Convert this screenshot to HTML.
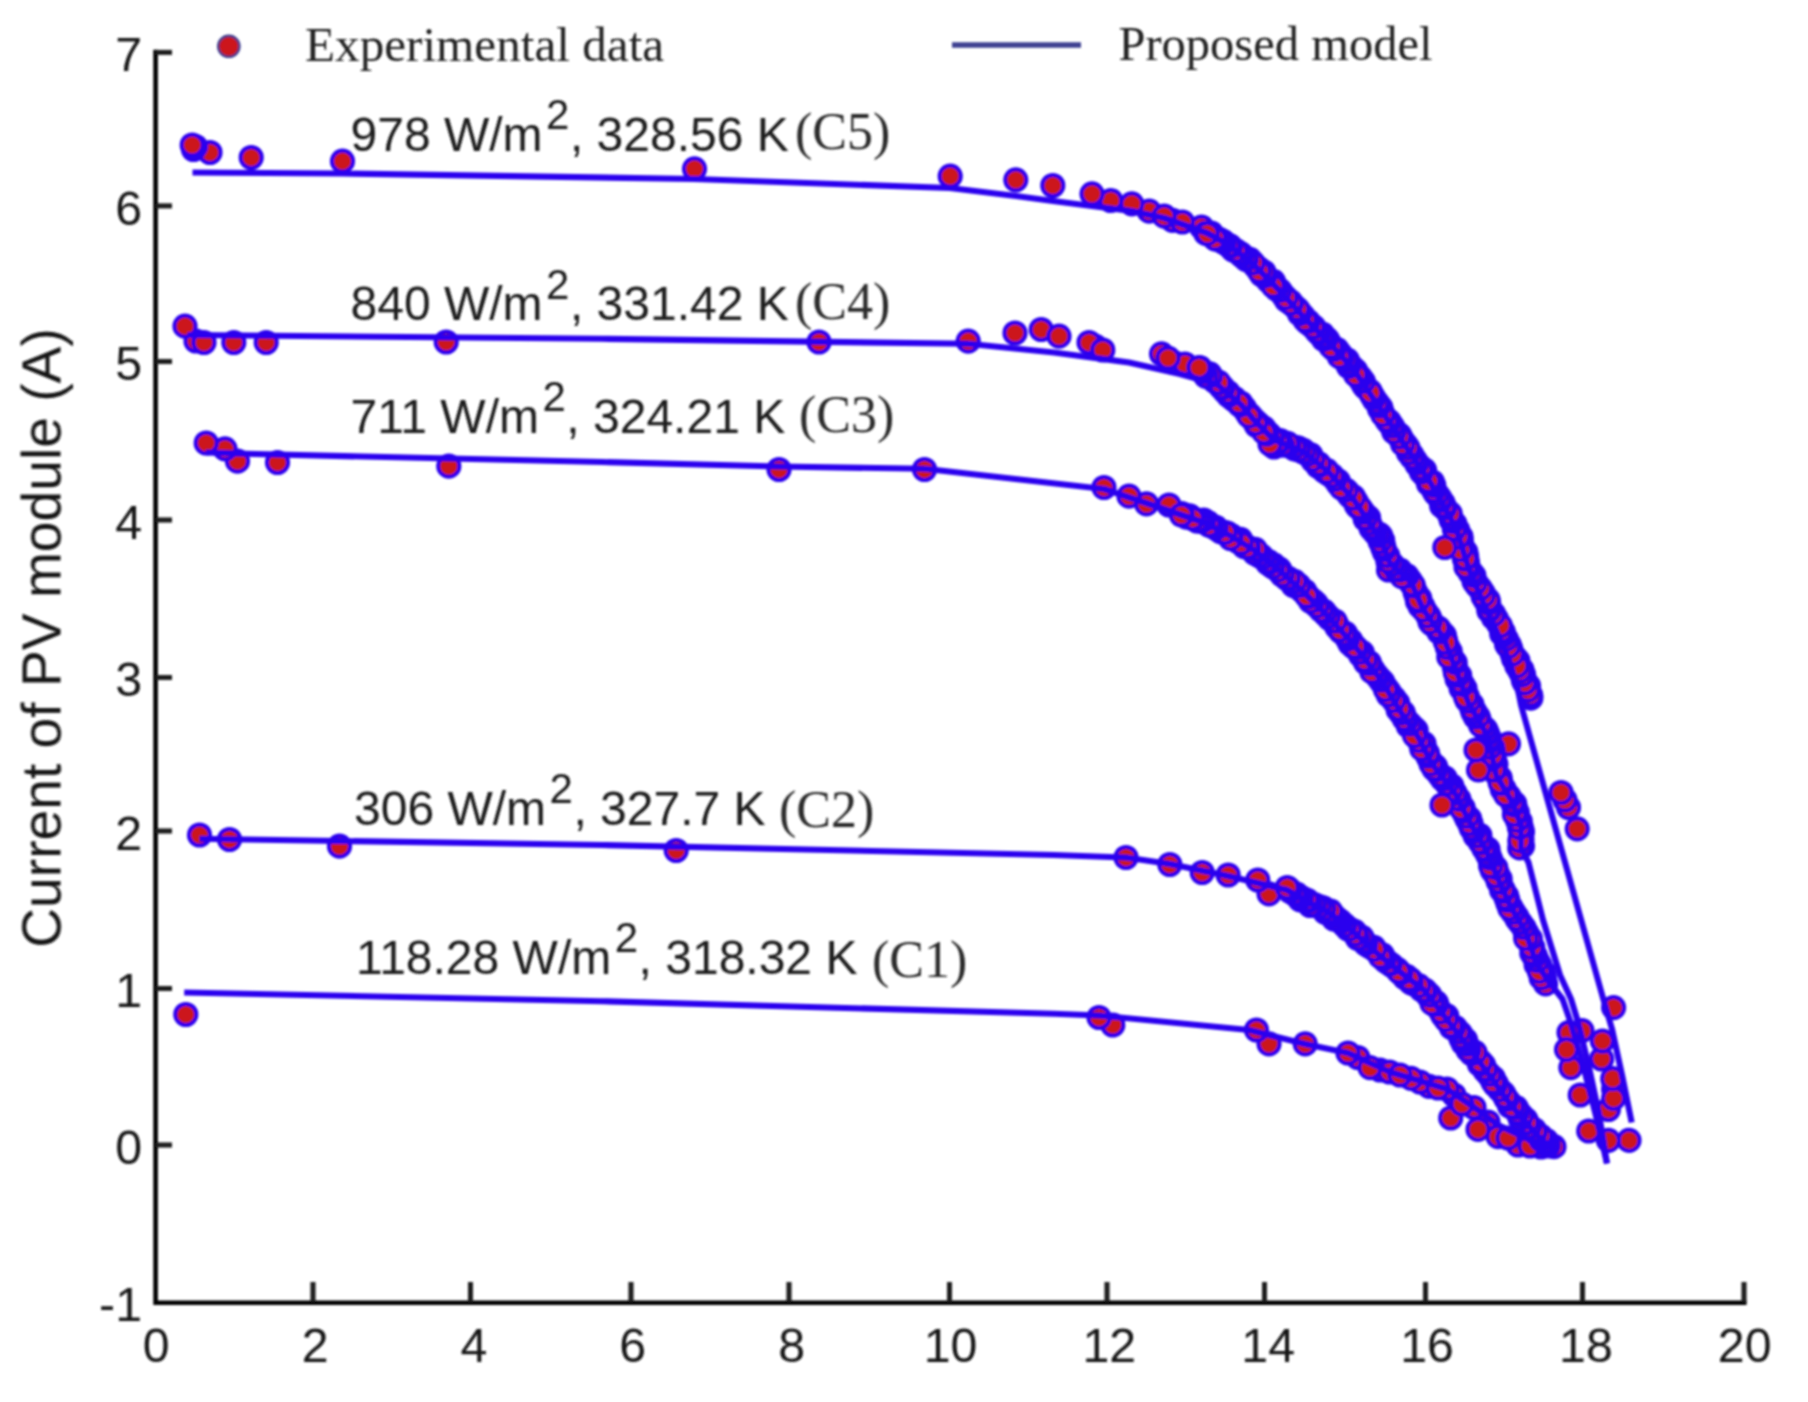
<!DOCTYPE html>
<html><head><meta charset="utf-8"><title>PV module I-V curves</title>
<style>html,body{margin:0;padding:0;background:#fff;overflow:hidden}svg{display:block}</style></head>
<body>
<svg width="1808" height="1402" viewBox="0 0 1808 1402">
<defs><filter id="soft" x="0" y="0" width="1808" height="1402" filterUnits="userSpaceOnUse"><feGaussianBlur stdDeviation="0.8"/></filter></defs>
<rect width="1808" height="1402" fill="#fff"/>
<g filter="url(#soft)">
<g stroke="#000" stroke-width="4.6" fill="none" stroke-linecap="butt">
<path d="M155.6 49.8 V1302.7 H1746.6"/>
</g>
<g stroke="#1a1a1a" stroke-width="5" fill="none">
<path d="M313 1302 V1282"/>
<path d="M470.5 1302 V1282"/>
<path d="M631 1302 V1282"/>
<path d="M789 1302 V1282"/>
<path d="M949.5 1302 V1282"/>
<path d="M1107 1302 V1282"/>
<path d="M1264.5 1302 V1282"/>
<path d="M1425.5 1302 V1282"/>
<path d="M1582.5 1302 V1282"/>
<path d="M1744 1302 V1282"/>
<path d="M156 52.4 H172"/>
<path d="M156 205.9 H172"/>
<path d="M156 361.5 H172"/>
<path d="M156 520 H172"/>
<path d="M156 677.5 H172"/>
<path d="M156 831 H172"/>
<path d="M156 988.5 H172"/>
<path d="M156 1145 H172"/>
</g>
<g font-family='"Liberation Sans", Arial, sans-serif' font-size="48.3" fill="#151515">
<text x="156.3" y="1362.4" text-anchor="middle">0</text>
<text x="315.1" y="1362.4" text-anchor="middle">2</text>
<text x="474.0" y="1362.4" text-anchor="middle">4</text>
<text x="632.8" y="1362.4" text-anchor="middle">6</text>
<text x="791.7" y="1362.4" text-anchor="middle">8</text>
<text x="950.5" y="1362.4" text-anchor="middle">10</text>
<text x="1109.3" y="1362.4" text-anchor="middle">12</text>
<text x="1268.2" y="1362.4" text-anchor="middle">14</text>
<text x="1427.0" y="1362.4" text-anchor="middle">16</text>
<text x="1585.9" y="1362.4" text-anchor="middle">18</text>
<text x="1744.7" y="1362.4" text-anchor="middle">20</text>
<text x="142" y="71.0" text-anchor="end">7</text>
<text x="142" y="224.5" text-anchor="end">6</text>
<text x="142" y="380.1" text-anchor="end">5</text>
<text x="142" y="538.6" text-anchor="end">4</text>
<text x="142" y="696.1" text-anchor="end">3</text>
<text x="142" y="849.6" text-anchor="end">2</text>
<text x="142" y="1007.1" text-anchor="end">1</text>
<text x="142" y="1163.6" text-anchor="end">0</text>
<text x="142" y="1321.1" text-anchor="end">-1</text>
</g>
<text transform="translate(60.5 638) rotate(-90)" font-family='"Liberation Sans", Arial, sans-serif' font-size="55.2" fill="#151515" text-anchor="middle">Current of PV module (A)</text>
<circle cx="228.8" cy="46.3" r="10.6" fill="#cc181b" stroke="#3b3a8c" stroke-width="2.4"/>
<path d="M952 45 H1081" stroke="#3d4192" stroke-width="5.6" fill="none"/>
<g font-family='"Liberation Serif", "Times New Roman", serif' font-size="49.2" fill="#222">
<text x="305" y="61.3">Experimental data</text>
<text x="1118.5" y="60.3" font-size="48.5">Proposed model</text>
</g>
<text x="350.5" y="150.75" font-family='"Liberation Sans", Arial, sans-serif' font-size="48" fill="#1a1a1a" xml:space="preserve">978 W/m<tspan dx="3.5" dy="-21.5" font-size="42">2</tspan><tspan dx="0.5" dy="21.5">, 328.56 K</tspan></text>
<text x="795" y="149.3" font-family='"Liberation Serif", "Times New Roman", serif' font-size="52" fill="#2a2a2a">(C5)</text>
<text x="350.5" y="320" font-family='"Liberation Sans", Arial, sans-serif' font-size="48" fill="#1a1a1a" xml:space="preserve">840 W/m<tspan dx="3.5" dy="-21.5" font-size="42">2</tspan><tspan dx="0.5" dy="21.5">, 331.42 K</tspan></text>
<text x="795" y="319.3" font-family='"Liberation Serif", "Times New Roman", serif' font-size="52" fill="#2a2a2a">(C4)</text>
<text x="350.5" y="432.5" font-family='"Liberation Sans", Arial, sans-serif' font-size="48" fill="#1a1a1a" xml:space="preserve">711 W/m<tspan dx="3.5" dy="-21.5" font-size="42">2</tspan><tspan dx="0.5" dy="21.5">, 324.21 K</tspan></text>
<text x="799" y="431.8" font-family='"Liberation Serif", "Times New Roman", serif' font-size="52" fill="#2a2a2a">(C3)</text>
<text x="354" y="824.5" font-family='"Liberation Sans", Arial, sans-serif' font-size="48" fill="#1a1a1a" xml:space="preserve">306 W/m<tspan dx="3.5" dy="-21.5" font-size="42">2</tspan><tspan dx="0.5" dy="21.5">, 327.7 K</tspan></text>
<text x="779" y="826.8" font-family='"Liberation Serif", "Times New Roman", serif' font-size="52" fill="#2a2a2a">(C2)</text>
<text x="356" y="973.75" font-family='"Liberation Sans", Arial, sans-serif' font-size="48" fill="#1a1a1a" xml:space="preserve">118.28 W/m<tspan dx="3.5" dy="-21.5" font-size="42">2</tspan><tspan dx="0.5" dy="21.5">, 318.32 K</tspan></text>
<text x="872" y="976.8" font-family='"Liberation Serif", "Times New Roman", serif' font-size="52" fill="#2a2a2a">(C1)</text>
<g fill="#cc181b" stroke="#2a00ee" stroke-width="4"><g><circle cx="1541.0" cy="1147.0" r="10.6"/><circle cx="1554.0" cy="1146.7" r="10.6"/><circle cx="1518.0" cy="1145.0" r="10.6"/><circle cx="1530.0" cy="1146.0" r="10.6"/><circle cx="1488.0" cy="1122.0" r="10.6"/><circle cx="1498.0" cy="1136.6" r="10.6"/><circle cx="1508.0" cy="1138.0" r="10.6"/><circle cx="1474.0" cy="1107.5" r="10.6"/><circle cx="1478.0" cy="1129.4" r="10.6"/><circle cx="1454.0" cy="1095.0" r="10.6"/><circle cx="1450.7" cy="1118.0" r="10.6"/><circle cx="1462.0" cy="1104.0" r="10.6"/><circle cx="1447.0" cy="1089.0" r="10.6"/><circle cx="1429.0" cy="1086.3" r="10.6"/><circle cx="1420.0" cy="1082.0" r="10.6"/><circle cx="1438.0" cy="1088.0" r="10.6"/><circle cx="1411.0" cy="1078.4" r="10.6"/><circle cx="1357.8" cy="1057.5" r="10.6"/><circle cx="1380.0" cy="1070.0" r="10.6"/><circle cx="1389.6" cy="1072.0" r="10.6"/><circle cx="1400.0" cy="1075.0" r="10.6"/><circle cx="1305.2" cy="1043.8" r="10.6"/><circle cx="1269.0" cy="1043.8" r="10.6"/><circle cx="1256.5" cy="1030.0" r="10.6"/><circle cx="1370.0" cy="1067.6" r="10.6"/><circle cx="1348.0" cy="1053.0" r="10.6"/><circle cx="1112.8" cy="1025.0" r="10.6"/><circle cx="185.8" cy="1014.5" r="10.6"/><circle cx="1099.0" cy="1017.5" r="10.6"/></g><g><circle cx="1548.0" cy="1145.9" r="10.6"/><circle cx="1546.5" cy="1140.7" r="10.6"/><circle cx="1541.1" cy="1139.8" r="10.6"/><circle cx="1547.8" cy="1143.3" r="10.6"/><circle cx="1544.3" cy="1142.0" r="10.6"/><circle cx="1541.6" cy="1139.0" r="10.6"/><circle cx="1540.6" cy="1136.0" r="10.6"/><circle cx="1534.5" cy="1129.9" r="10.6"/><circle cx="1535.1" cy="1132.6" r="10.6"/><circle cx="1534.7" cy="1131.2" r="10.6"/><circle cx="1525.7" cy="1119.5" r="10.6"/><circle cx="1521.6" cy="1117.1" r="10.6"/><circle cx="1523.2" cy="1122.4" r="10.6"/><circle cx="1528.7" cy="1125.1" r="10.6"/><circle cx="1529.4" cy="1126.8" r="10.6"/><circle cx="1526.9" cy="1122.5" r="10.6"/><circle cx="1520.2" cy="1118.8" r="10.6"/><circle cx="1517.4" cy="1110.4" r="10.6"/><circle cx="1521.5" cy="1115.4" r="10.6"/><circle cx="1517.3" cy="1112.3" r="10.6"/><circle cx="1509.6" cy="1106.0" r="10.6"/><circle cx="1509.4" cy="1102.4" r="10.6"/><circle cx="1516.2" cy="1107.6" r="10.6"/><circle cx="1512.2" cy="1106.4" r="10.6"/><circle cx="1503.7" cy="1093.7" r="10.6"/><circle cx="1502.6" cy="1092.6" r="10.6"/><circle cx="1506.0" cy="1098.8" r="10.6"/><circle cx="1507.0" cy="1099.3" r="10.6"/><circle cx="1504.9" cy="1096.4" r="10.6"/><circle cx="1496.1" cy="1083.3" r="10.6"/><circle cx="1496.9" cy="1085.9" r="10.6"/><circle cx="1499.7" cy="1089.9" r="10.6"/><circle cx="1491.9" cy="1079.2" r="10.6"/><circle cx="1493.3" cy="1078.0" r="10.6"/><circle cx="1488.7" cy="1074.7" r="10.6"/><circle cx="1495.1" cy="1085.1" r="10.6"/><circle cx="1493.2" cy="1082.2" r="10.6"/><circle cx="1489.4" cy="1074.4" r="10.6"/><circle cx="1484.9" cy="1070.5" r="10.6"/><circle cx="1483.6" cy="1064.9" r="10.6"/><circle cx="1485.1" cy="1069.1" r="10.6"/><circle cx="1480.7" cy="1061.7" r="10.6"/><circle cx="1479.5" cy="1064.4" r="10.6"/><circle cx="1478.4" cy="1060.3" r="10.6"/><circle cx="1474.3" cy="1054.2" r="10.6"/><circle cx="1480.4" cy="1061.8" r="10.6"/><circle cx="1471.5" cy="1053.8" r="10.6"/><circle cx="1475.0" cy="1052.4" r="10.6"/><circle cx="1468.8" cy="1050.2" r="10.6"/><circle cx="1468.0" cy="1050.0" r="10.6"/><circle cx="1466.8" cy="1044.3" r="10.6"/><circle cx="1465.7" cy="1040.2" r="10.6"/><circle cx="1463.5" cy="1043.7" r="10.6"/><circle cx="1461.0" cy="1036.5" r="10.6"/><circle cx="1460.4" cy="1033.4" r="10.6"/><circle cx="1461.7" cy="1040.0" r="10.6"/><circle cx="1460.6" cy="1037.2" r="10.6"/><circle cx="1455.4" cy="1027.7" r="10.6"/><circle cx="1458.3" cy="1032.0" r="10.6"/><circle cx="1451.5" cy="1027.7" r="10.6"/><circle cx="1453.3" cy="1028.1" r="10.6"/><circle cx="1446.8" cy="1015.8" r="10.6"/><circle cx="1447.0" cy="1020.5" r="10.6"/><circle cx="1450.9" cy="1025.3" r="10.6"/><circle cx="1442.8" cy="1015.5" r="10.6"/><circle cx="1446.4" cy="1017.9" r="10.6"/><circle cx="1437.5" cy="1007.1" r="10.6"/><circle cx="1445.9" cy="1019.6" r="10.6"/><circle cx="1441.1" cy="1011.8" r="10.6"/><circle cx="1436.6" cy="1004.5" r="10.6"/><circle cx="1434.2" cy="1004.3" r="10.6"/><circle cx="1436.3" cy="1002.7" r="10.6"/><circle cx="1432.1" cy="1000.9" r="10.6"/><circle cx="1428.4" cy="995.9" r="10.6"/><circle cx="1432.0" cy="1003.4" r="10.6"/><circle cx="1429.8" cy="995.2" r="10.6"/><circle cx="1425.7" cy="990.8" r="10.6"/><circle cx="1424.3" cy="989.9" r="10.6"/><circle cx="1414.1" cy="984.2" r="10.6"/><circle cx="1421.5" cy="989.8" r="10.6"/><circle cx="1423.8" cy="990.2" r="10.6"/><circle cx="1418.8" cy="985.6" r="10.6"/><circle cx="1411.0" cy="982.9" r="10.6"/><circle cx="1410.9" cy="979.9" r="10.6"/><circle cx="1406.6" cy="976.4" r="10.6"/><circle cx="1404.8" cy="977.5" r="10.6"/><circle cx="1404.8" cy="977.6" r="10.6"/><circle cx="1409.4" cy="979.1" r="10.6"/><circle cx="1397.2" cy="969.4" r="10.6"/><circle cx="1400.8" cy="973.3" r="10.6"/><circle cx="1392.1" cy="965.5" r="10.6"/><circle cx="1398.0" cy="970.5" r="10.6"/><circle cx="1398.8" cy="971.5" r="10.6"/><circle cx="1390.2" cy="964.0" r="10.6"/><circle cx="1385.8" cy="961.3" r="10.6"/><circle cx="1388.8" cy="963.2" r="10.6"/><circle cx="1383.6" cy="959.1" r="10.6"/><circle cx="1384.3" cy="958.7" r="10.6"/><circle cx="1374.7" cy="949.5" r="10.6"/><circle cx="1379.7" cy="954.1" r="10.6"/><circle cx="1382.4" cy="954.9" r="10.6"/><circle cx="1380.3" cy="956.6" r="10.6"/><circle cx="1373.9" cy="947.4" r="10.6"/><circle cx="1367.5" cy="944.7" r="10.6"/><circle cx="1369.2" cy="946.3" r="10.6"/><circle cx="1374.4" cy="949.4" r="10.6"/><circle cx="1365.7" cy="944.1" r="10.6"/><circle cx="1363.8" cy="941.5" r="10.6"/><circle cx="1358.1" cy="935.3" r="10.6"/><circle cx="1362.0" cy="937.3" r="10.6"/><circle cx="1355.5" cy="934.6" r="10.6"/><circle cx="1357.4" cy="938.3" r="10.6"/><circle cx="1354.6" cy="931.3" r="10.6"/><circle cx="1355.2" cy="934.1" r="10.6"/><circle cx="1347.9" cy="929.0" r="10.6"/><circle cx="1345.0" cy="925.7" r="10.6"/><circle cx="1349.6" cy="929.0" r="10.6"/><circle cx="1344.6" cy="925.3" r="10.6"/><circle cx="1341.0" cy="921.8" r="10.6"/><circle cx="1340.0" cy="921.2" r="10.6"/><circle cx="1337.7" cy="919.3" r="10.6"/><circle cx="1334.8" cy="916.7" r="10.6"/><circle cx="1333.9" cy="919.0" r="10.6"/><circle cx="1332.9" cy="915.3" r="10.6"/><circle cx="1329.5" cy="913.6" r="10.6"/><circle cx="1325.1" cy="912.3" r="10.6"/><circle cx="1323.2" cy="907.8" r="10.6"/><circle cx="1330.6" cy="911.1" r="10.6"/><circle cx="1313.7" cy="904.9" r="10.6"/><circle cx="1323.8" cy="909.2" r="10.6"/><circle cx="1319.2" cy="906.6" r="10.6"/><circle cx="1314.3" cy="904.5" r="10.6"/><circle cx="1310.1" cy="905.5" r="10.6"/><circle cx="1307.8" cy="901.1" r="10.6"/><circle cx="1300.2" cy="899.8" r="10.6"/><circle cx="1308.1" cy="901.4" r="10.6"/><circle cx="1306.7" cy="900.0" r="10.6"/><circle cx="1301.3" cy="897.5" r="10.6"/><circle cx="1297.5" cy="896.3" r="10.6"/><circle cx="1296.6" cy="894.2" r="10.6"/><circle cx="1294.2" cy="893.9" r="10.6"/><circle cx="1289.9" cy="891.3" r="10.6"/><circle cx="1287.8" cy="888.8" r="10.6"/><circle cx="1289.8" cy="889.9" r="10.6"/><circle cx="1202.2" cy="872.5" r="10.6"/><circle cx="1228.2" cy="875.0" r="10.6"/><circle cx="1269.0" cy="893.8" r="10.6"/><circle cx="1287.2" cy="887.5" r="10.6"/><circle cx="1169.8" cy="864.5" r="10.6"/><circle cx="1257.8" cy="880.0" r="10.6"/><circle cx="676.2" cy="850.5" r="10.6"/><circle cx="1126.0" cy="857.5" r="10.6"/><circle cx="229.5" cy="839.5" r="10.6"/><circle cx="339.5" cy="846.2" r="10.6"/><circle cx="199.5" cy="835.0" r="10.6"/></g><g><circle cx="1543.2" cy="972.0" r="10.6"/><circle cx="1545.6" cy="983.9" r="10.6"/><circle cx="1540.0" cy="969.8" r="10.6"/><circle cx="1544.3" cy="976.9" r="10.6"/><circle cx="1539.7" cy="965.0" r="10.6"/><circle cx="1541.2" cy="977.9" r="10.6"/><circle cx="1536.3" cy="961.1" r="10.6"/><circle cx="1536.1" cy="964.8" r="10.6"/><circle cx="1539.4" cy="971.4" r="10.6"/><circle cx="1537.3" cy="960.6" r="10.6"/><circle cx="1535.3" cy="955.7" r="10.6"/><circle cx="1532.7" cy="950.7" r="10.6"/><circle cx="1533.7" cy="956.0" r="10.6"/><circle cx="1532.8" cy="947.3" r="10.6"/><circle cx="1531.8" cy="952.9" r="10.6"/><circle cx="1528.9" cy="941.0" r="10.6"/><circle cx="1531.8" cy="947.5" r="10.6"/><circle cx="1525.8" cy="936.0" r="10.6"/><circle cx="1526.6" cy="932.6" r="10.6"/><circle cx="1530.4" cy="938.7" r="10.6"/><circle cx="1524.0" cy="927.7" r="10.6"/><circle cx="1525.9" cy="933.3" r="10.6"/><circle cx="1525.7" cy="938.5" r="10.6"/><circle cx="1523.3" cy="927.3" r="10.6"/><circle cx="1520.6" cy="922.9" r="10.6"/><circle cx="1517.8" cy="919.8" r="10.6"/><circle cx="1519.8" cy="922.6" r="10.6"/><circle cx="1516.8" cy="916.7" r="10.6"/><circle cx="1516.7" cy="918.3" r="10.6"/><circle cx="1513.6" cy="912.0" r="10.6"/><circle cx="1507.9" cy="903.3" r="10.6"/><circle cx="1510.9" cy="907.2" r="10.6"/><circle cx="1512.8" cy="912.4" r="10.6"/><circle cx="1509.8" cy="908.4" r="10.6"/><circle cx="1506.6" cy="895.6" r="10.6"/><circle cx="1507.8" cy="899.9" r="10.6"/><circle cx="1507.5" cy="900.3" r="10.6"/><circle cx="1501.6" cy="890.2" r="10.6"/><circle cx="1506.0" cy="897.7" r="10.6"/><circle cx="1502.9" cy="891.6" r="10.6"/><circle cx="1500.0" cy="884.0" r="10.6"/><circle cx="1503.0" cy="889.3" r="10.6"/><circle cx="1499.3" cy="882.6" r="10.6"/><circle cx="1500.2" cy="878.9" r="10.6"/><circle cx="1497.3" cy="873.3" r="10.6"/><circle cx="1498.2" cy="881.5" r="10.6"/><circle cx="1492.3" cy="870.5" r="10.6"/><circle cx="1496.1" cy="875.8" r="10.6"/><circle cx="1495.8" cy="867.7" r="10.6"/><circle cx="1490.7" cy="864.6" r="10.6"/><circle cx="1490.9" cy="859.9" r="10.6"/><circle cx="1488.0" cy="849.2" r="10.6"/><circle cx="1490.7" cy="866.1" r="10.6"/><circle cx="1489.2" cy="855.7" r="10.6"/><circle cx="1489.3" cy="857.8" r="10.6"/><circle cx="1487.4" cy="854.6" r="10.6"/><circle cx="1486.1" cy="850.1" r="10.6"/><circle cx="1483.2" cy="845.5" r="10.6"/><circle cx="1483.8" cy="848.5" r="10.6"/><circle cx="1480.9" cy="842.8" r="10.6"/><circle cx="1475.3" cy="836.0" r="10.6"/><circle cx="1479.9" cy="835.3" r="10.6"/><circle cx="1480.0" cy="841.8" r="10.6"/><circle cx="1477.4" cy="835.9" r="10.6"/><circle cx="1471.4" cy="826.1" r="10.6"/><circle cx="1469.6" cy="818.6" r="10.6"/><circle cx="1473.5" cy="831.4" r="10.6"/><circle cx="1466.9" cy="818.7" r="10.6"/><circle cx="1471.3" cy="828.2" r="10.6"/><circle cx="1471.0" cy="823.4" r="10.6"/><circle cx="1469.4" cy="823.3" r="10.6"/><circle cx="1465.2" cy="814.9" r="10.6"/><circle cx="1463.2" cy="808.0" r="10.6"/><circle cx="1467.1" cy="816.5" r="10.6"/><circle cx="1463.4" cy="811.1" r="10.6"/><circle cx="1461.4" cy="806.0" r="10.6"/><circle cx="1457.9" cy="801.9" r="10.6"/><circle cx="1461.5" cy="808.8" r="10.6"/><circle cx="1458.9" cy="799.1" r="10.6"/><circle cx="1456.8" cy="798.4" r="10.6"/><circle cx="1454.5" cy="792.5" r="10.6"/><circle cx="1452.0" cy="786.2" r="10.6"/><circle cx="1447.2" cy="784.2" r="10.6"/><circle cx="1455.1" cy="793.2" r="10.6"/><circle cx="1448.9" cy="785.8" r="10.6"/><circle cx="1450.7" cy="790.5" r="10.6"/><circle cx="1447.0" cy="783.4" r="10.6"/><circle cx="1445.2" cy="778.2" r="10.6"/><circle cx="1439.3" cy="773.9" r="10.6"/><circle cx="1442.0" cy="805.0" r="10.6"/><circle cx="1442.4" cy="779.1" r="10.6"/><circle cx="1435.5" cy="766.3" r="10.6"/><circle cx="1440.8" cy="775.8" r="10.6"/><circle cx="1439.3" cy="774.8" r="10.6"/><circle cx="1435.4" cy="770.1" r="10.6"/><circle cx="1431.2" cy="762.5" r="10.6"/><circle cx="1433.7" cy="768.6" r="10.6"/><circle cx="1429.0" cy="758.6" r="10.6"/><circle cx="1426.1" cy="751.5" r="10.6"/><circle cx="1431.1" cy="763.9" r="10.6"/><circle cx="1427.7" cy="756.0" r="10.6"/><circle cx="1427.5" cy="753.4" r="10.6"/><circle cx="1422.6" cy="744.7" r="10.6"/><circle cx="1423.2" cy="749.2" r="10.6"/><circle cx="1420.6" cy="742.6" r="10.6"/><circle cx="1424.0" cy="743.6" r="10.6"/><circle cx="1421.7" cy="748.8" r="10.6"/><circle cx="1414.5" cy="732.9" r="10.6"/><circle cx="1416.1" cy="730.2" r="10.6"/><circle cx="1418.9" cy="740.6" r="10.6"/><circle cx="1411.3" cy="727.3" r="10.6"/><circle cx="1413.2" cy="727.5" r="10.6"/><circle cx="1408.4" cy="726.2" r="10.6"/><circle cx="1414.5" cy="735.6" r="10.6"/><circle cx="1409.9" cy="723.9" r="10.6"/><circle cx="1405.0" cy="717.9" r="10.6"/><circle cx="1406.2" cy="720.6" r="10.6"/><circle cx="1404.3" cy="718.8" r="10.6"/><circle cx="1397.7" cy="702.9" r="10.6"/><circle cx="1400.7" cy="713.0" r="10.6"/><circle cx="1398.1" cy="709.7" r="10.6"/><circle cx="1396.0" cy="702.0" r="10.6"/><circle cx="1403.2" cy="712.6" r="10.6"/><circle cx="1399.4" cy="708.7" r="10.6"/><circle cx="1394.1" cy="698.2" r="10.6"/><circle cx="1390.7" cy="694.9" r="10.6"/><circle cx="1393.7" cy="700.6" r="10.6"/><circle cx="1386.3" cy="687.9" r="10.6"/><circle cx="1388.9" cy="691.3" r="10.6"/><circle cx="1386.0" cy="689.9" r="10.6"/><circle cx="1382.8" cy="681.8" r="10.6"/><circle cx="1381.7" cy="682.1" r="10.6"/><circle cx="1388.3" cy="695.0" r="10.6"/><circle cx="1385.5" cy="689.6" r="10.6"/><circle cx="1378.9" cy="677.8" r="10.6"/><circle cx="1380.7" cy="680.0" r="10.6"/><circle cx="1377.6" cy="676.6" r="10.6"/><circle cx="1375.8" cy="674.2" r="10.6"/><circle cx="1371.7" cy="668.5" r="10.6"/><circle cx="1372.9" cy="670.0" r="10.6"/><circle cx="1371.9" cy="671.9" r="10.6"/><circle cx="1365.5" cy="662.6" r="10.6"/><circle cx="1369.2" cy="663.7" r="10.6"/><circle cx="1369.2" cy="662.5" r="10.6"/><circle cx="1362.8" cy="657.3" r="10.6"/><circle cx="1362.3" cy="652.7" r="10.6"/><circle cx="1360.6" cy="655.2" r="10.6"/><circle cx="1365.0" cy="659.9" r="10.6"/><circle cx="1359.7" cy="652.4" r="10.6"/><circle cx="1349.8" cy="643.5" r="10.6"/><circle cx="1353.7" cy="647.2" r="10.6"/><circle cx="1350.7" cy="640.5" r="10.6"/><circle cx="1356.5" cy="648.2" r="10.6"/><circle cx="1354.9" cy="646.7" r="10.6"/><circle cx="1347.6" cy="639.1" r="10.6"/><circle cx="1345.5" cy="633.3" r="10.6"/><circle cx="1346.3" cy="636.4" r="10.6"/><circle cx="1340.6" cy="631.5" r="10.6"/><circle cx="1343.9" cy="633.9" r="10.6"/><circle cx="1336.5" cy="624.1" r="10.6"/><circle cx="1334.8" cy="622.4" r="10.6"/><circle cx="1336.8" cy="627.1" r="10.6"/><circle cx="1339.9" cy="629.9" r="10.6"/><circle cx="1329.8" cy="618.9" r="10.6"/><circle cx="1325.4" cy="613.9" r="10.6"/><circle cx="1335.0" cy="621.0" r="10.6"/><circle cx="1325.7" cy="614.5" r="10.6"/><circle cx="1328.4" cy="616.5" r="10.6"/><circle cx="1323.8" cy="611.2" r="10.6"/><circle cx="1324.8" cy="612.5" r="10.6"/><circle cx="1316.4" cy="603.8" r="10.6"/><circle cx="1321.0" cy="610.3" r="10.6"/><circle cx="1315.0" cy="602.8" r="10.6"/><circle cx="1316.8" cy="605.8" r="10.6"/><circle cx="1312.8" cy="600.5" r="10.6"/><circle cx="1310.5" cy="601.4" r="10.6"/><circle cx="1304.7" cy="591.0" r="10.6"/><circle cx="1308.5" cy="596.7" r="10.6"/><circle cx="1302.5" cy="591.2" r="10.6"/><circle cx="1300.4" cy="589.2" r="10.6"/><circle cx="1301.5" cy="589.8" r="10.6"/><circle cx="1306.6" cy="595.8" r="10.6"/><circle cx="1293.5" cy="585.7" r="10.6"/><circle cx="1298.9" cy="585.5" r="10.6"/><circle cx="1298.4" cy="585.2" r="10.6"/><circle cx="1294.5" cy="581.3" r="10.6"/><circle cx="1286.7" cy="578.6" r="10.6"/><circle cx="1288.1" cy="579.3" r="10.6"/><circle cx="1287.9" cy="578.0" r="10.6"/><circle cx="1279.8" cy="571.9" r="10.6"/><circle cx="1278.6" cy="568.7" r="10.6"/><circle cx="1279.8" cy="569.7" r="10.6"/><circle cx="1282.1" cy="575.1" r="10.6"/><circle cx="1273.8" cy="564.8" r="10.6"/><circle cx="1278.0" cy="570.2" r="10.6"/><circle cx="1272.7" cy="566.9" r="10.6"/><circle cx="1268.6" cy="561.7" r="10.6"/><circle cx="1268.2" cy="563.7" r="10.6"/><circle cx="1261.2" cy="555.8" r="10.6"/><circle cx="1266.8" cy="561.3" r="10.6"/><circle cx="1262.9" cy="557.9" r="10.6"/><circle cx="1258.9" cy="555.6" r="10.6"/><circle cx="1255.6" cy="551.7" r="10.6"/><circle cx="1253.0" cy="550.0" r="10.6"/><circle cx="1254.7" cy="553.3" r="10.6"/><circle cx="1255.3" cy="549.4" r="10.6"/><circle cx="1244.1" cy="546.6" r="10.6"/><circle cx="1248.6" cy="547.8" r="10.6"/><circle cx="1240.6" cy="539.4" r="10.6"/><circle cx="1237.4" cy="541.4" r="10.6"/><circle cx="1247.2" cy="547.2" r="10.6"/><circle cx="1236.0" cy="538.8" r="10.6"/><circle cx="1241.1" cy="543.0" r="10.6"/><circle cx="1231.3" cy="535.7" r="10.6"/><circle cx="1227.2" cy="533.2" r="10.6"/><circle cx="1230.2" cy="535.8" r="10.6"/><circle cx="1230.5" cy="538.5" r="10.6"/><circle cx="1223.0" cy="532.4" r="10.6"/><circle cx="1220.4" cy="531.6" r="10.6"/><circle cx="1224.9" cy="532.5" r="10.6"/><circle cx="1215.7" cy="528.3" r="10.6"/><circle cx="1215.9" cy="527.4" r="10.6"/><circle cx="1212.1" cy="526.2" r="10.6"/><circle cx="1209.2" cy="524.8" r="10.6"/><circle cx="1208.0" cy="522.6" r="10.6"/><circle cx="1208.8" cy="525.1" r="10.6"/><circle cx="1203.8" cy="520.1" r="10.6"/><circle cx="1201.3" cy="521.4" r="10.6"/><circle cx="1197.1" cy="521.0" r="10.6"/><circle cx="1197.2" cy="520.7" r="10.6"/><circle cx="1189.6" cy="515.9" r="10.6"/><circle cx="1186.3" cy="517.2" r="10.6"/><circle cx="1192.8" cy="518.4" r="10.6"/><circle cx="1192.6" cy="518.5" r="10.6"/><circle cx="1181.8" cy="513.9" r="10.6"/><circle cx="1182.0" cy="513.9" r="10.6"/><circle cx="1169.0" cy="505.0" r="10.6"/><circle cx="1146.5" cy="503.8" r="10.6"/><circle cx="1129.0" cy="496.2" r="10.6"/><circle cx="1181.5" cy="515.0" r="10.6"/><circle cx="779.0" cy="469.5" r="10.6"/><circle cx="924.5" cy="469.5" r="10.6"/><circle cx="448.8" cy="466.2" r="10.6"/><circle cx="277.5" cy="462.5" r="10.6"/><circle cx="1104.0" cy="487.5" r="10.6"/><circle cx="237.5" cy="461.2" r="10.6"/><circle cx="225.0" cy="448.8" r="10.6"/><circle cx="206.2" cy="443.0" r="10.6"/></g><g><circle cx="1580.2" cy="1095.0" r="10.6"/><circle cx="1582.0" cy="1030.7" r="10.6"/><circle cx="1588.7" cy="1131.0" r="10.6"/><circle cx="1522.5" cy="831.7" r="10.6"/><circle cx="1569.0" cy="1032.5" r="10.6"/><circle cx="1570.8" cy="1067.6" r="10.6"/><circle cx="1566.5" cy="1049.6" r="10.6"/><circle cx="1522.5" cy="846.1" r="10.6"/><circle cx="1520.4" cy="837.5" r="10.6"/><circle cx="1521.0" cy="831.2" r="10.6"/><circle cx="1522.0" cy="839.3" r="10.6"/><circle cx="1521.4" cy="827.6" r="10.6"/><circle cx="1520.3" cy="821.4" r="10.6"/><circle cx="1519.7" cy="847.9" r="10.6"/><circle cx="1519.8" cy="840.8" r="10.6"/><circle cx="1519.4" cy="827.5" r="10.6"/><circle cx="1518.4" cy="818.9" r="10.6"/><circle cx="1515.5" cy="808.1" r="10.6"/><circle cx="1516.9" cy="814.5" r="10.6"/><circle cx="1517.5" cy="820.4" r="10.6"/><circle cx="1514.7" cy="803.6" r="10.6"/><circle cx="1517.4" cy="812.7" r="10.6"/><circle cx="1514.4" cy="814.5" r="10.6"/><circle cx="1508.5" cy="743.8" r="10.6"/><circle cx="1513.4" cy="804.8" r="10.6"/><circle cx="1512.7" cy="802.5" r="10.6"/><circle cx="1509.4" cy="797.2" r="10.6"/><circle cx="1508.3" cy="795.9" r="10.6"/><circle cx="1502.3" cy="789.5" r="10.6"/><circle cx="1508.2" cy="795.7" r="10.6"/><circle cx="1504.1" cy="788.8" r="10.6"/><circle cx="1505.7" cy="795.0" r="10.6"/><circle cx="1501.1" cy="783.7" r="10.6"/><circle cx="1496.4" cy="773.9" r="10.6"/><circle cx="1500.5" cy="781.7" r="10.6"/><circle cx="1499.6" cy="778.2" r="10.6"/><circle cx="1500.2" cy="777.8" r="10.6"/><circle cx="1500.1" cy="782.4" r="10.6"/><circle cx="1494.5" cy="759.3" r="10.6"/><circle cx="1495.9" cy="764.3" r="10.6"/><circle cx="1494.8" cy="769.8" r="10.6"/><circle cx="1493.3" cy="752.6" r="10.6"/><circle cx="1494.2" cy="768.5" r="10.6"/><circle cx="1493.9" cy="769.8" r="10.6"/><circle cx="1492.8" cy="748.0" r="10.6"/><circle cx="1490.5" cy="752.1" r="10.6"/><circle cx="1491.7" cy="759.1" r="10.6"/><circle cx="1492.5" cy="755.7" r="10.6"/><circle cx="1490.1" cy="747.3" r="10.6"/><circle cx="1488.6" cy="737.0" r="10.6"/><circle cx="1489.8" cy="741.6" r="10.6"/><circle cx="1488.9" cy="739.8" r="10.6"/><circle cx="1489.4" cy="738.5" r="10.6"/><circle cx="1485.7" cy="729.4" r="10.6"/><circle cx="1487.7" cy="734.1" r="10.6"/><circle cx="1486.8" cy="732.2" r="10.6"/><circle cx="1484.6" cy="728.7" r="10.6"/><circle cx="1479.0" cy="719.4" r="10.6"/><circle cx="1481.6" cy="725.7" r="10.6"/><circle cx="1478.5" cy="770.0" r="10.6"/><circle cx="1476.0" cy="750.0" r="10.6"/><circle cx="1480.5" cy="725.1" r="10.6"/><circle cx="1475.4" cy="717.0" r="10.6"/><circle cx="1478.0" cy="716.4" r="10.6"/><circle cx="1474.8" cy="711.3" r="10.6"/><circle cx="1472.1" cy="708.3" r="10.6"/><circle cx="1473.0" cy="712.5" r="10.6"/><circle cx="1471.9" cy="704.5" r="10.6"/><circle cx="1471.8" cy="708.4" r="10.6"/><circle cx="1467.3" cy="696.5" r="10.6"/><circle cx="1467.0" cy="700.4" r="10.6"/><circle cx="1468.9" cy="701.3" r="10.6"/><circle cx="1464.9" cy="692.5" r="10.6"/><circle cx="1465.0" cy="688.5" r="10.6"/><circle cx="1461.1" cy="688.6" r="10.6"/><circle cx="1465.6" cy="697.1" r="10.6"/><circle cx="1462.8" cy="684.6" r="10.6"/><circle cx="1461.4" cy="683.7" r="10.6"/><circle cx="1459.7" cy="675.4" r="10.6"/><circle cx="1457.1" cy="679.1" r="10.6"/><circle cx="1460.3" cy="681.9" r="10.6"/><circle cx="1455.8" cy="669.2" r="10.6"/><circle cx="1457.8" cy="675.6" r="10.6"/><circle cx="1454.4" cy="667.0" r="10.6"/><circle cx="1451.8" cy="659.2" r="10.6"/><circle cx="1455.3" cy="672.4" r="10.6"/><circle cx="1455.2" cy="662.7" r="10.6"/><circle cx="1453.4" cy="660.4" r="10.6"/><circle cx="1450.2" cy="651.4" r="10.6"/><circle cx="1450.5" cy="655.8" r="10.6"/><circle cx="1445.3" cy="641.2" r="10.6"/><circle cx="1445.5" cy="640.4" r="10.6"/><circle cx="1447.4" cy="646.5" r="10.6"/><circle cx="1448.8" cy="657.1" r="10.6"/><circle cx="1447.4" cy="647.6" r="10.6"/><circle cx="1444.5" cy="635.8" r="10.6"/><circle cx="1443.9" cy="634.6" r="10.6"/><circle cx="1440.8" cy="631.7" r="10.6"/><circle cx="1445.8" cy="642.6" r="10.6"/><circle cx="1438.9" cy="632.0" r="10.6"/><circle cx="1438.8" cy="628.5" r="10.6"/><circle cx="1431.8" cy="624.1" r="10.6"/><circle cx="1429.0" cy="616.4" r="10.6"/><circle cx="1437.6" cy="627.6" r="10.6"/><circle cx="1430.4" cy="619.8" r="10.6"/><circle cx="1425.1" cy="610.9" r="10.6"/><circle cx="1427.2" cy="614.2" r="10.6"/><circle cx="1430.0" cy="622.1" r="10.6"/><circle cx="1427.9" cy="615.8" r="10.6"/><circle cx="1422.8" cy="606.1" r="10.6"/><circle cx="1420.1" cy="606.4" r="10.6"/><circle cx="1423.6" cy="609.9" r="10.6"/><circle cx="1419.7" cy="598.1" r="10.6"/><circle cx="1416.3" cy="595.8" r="10.6"/><circle cx="1415.1" cy="591.9" r="10.6"/><circle cx="1417.5" cy="601.4" r="10.6"/><circle cx="1415.7" cy="592.2" r="10.6"/><circle cx="1418.3" cy="599.9" r="10.6"/><circle cx="1410.1" cy="580.5" r="10.6"/><circle cx="1411.0" cy="583.3" r="10.6"/><circle cx="1410.0" cy="580.9" r="10.6"/><circle cx="1413.4" cy="585.9" r="10.6"/><circle cx="1412.9" cy="584.6" r="10.6"/><circle cx="1407.0" cy="575.9" r="10.6"/><circle cx="1400.0" cy="572.6" r="10.6"/><circle cx="1404.0" cy="576.8" r="10.6"/><circle cx="1401.8" cy="576.6" r="10.6"/><circle cx="1400.1" cy="570.1" r="10.6"/><circle cx="1388.5" cy="570.0" r="10.6"/><circle cx="1396.4" cy="569.6" r="10.6"/><circle cx="1395.7" cy="568.8" r="10.6"/><circle cx="1388.5" cy="561.0" r="10.6"/><circle cx="1392.6" cy="564.7" r="10.6"/><circle cx="1392.1" cy="564.1" r="10.6"/><circle cx="1387.9" cy="561.2" r="10.6"/><circle cx="1384.6" cy="552.4" r="10.6"/><circle cx="1387.0" cy="555.7" r="10.6"/><circle cx="1382.8" cy="547.7" r="10.6"/><circle cx="1387.7" cy="555.7" r="10.6"/><circle cx="1384.4" cy="549.6" r="10.6"/><circle cx="1382.7" cy="540.4" r="10.6"/><circle cx="1380.7" cy="535.6" r="10.6"/><circle cx="1383.7" cy="546.4" r="10.6"/><circle cx="1380.1" cy="541.6" r="10.6"/><circle cx="1378.4" cy="535.9" r="10.6"/><circle cx="1379.0" cy="534.2" r="10.6"/><circle cx="1375.2" cy="533.0" r="10.6"/><circle cx="1373.0" cy="530.2" r="10.6"/><circle cx="1371.1" cy="528.3" r="10.6"/><circle cx="1371.3" cy="527.5" r="10.6"/><circle cx="1368.6" cy="517.7" r="10.6"/><circle cx="1365.5" cy="515.7" r="10.6"/><circle cx="1369.5" cy="523.2" r="10.6"/><circle cx="1365.1" cy="519.0" r="10.6"/><circle cx="1365.4" cy="518.0" r="10.6"/><circle cx="1357.9" cy="507.0" r="10.6"/><circle cx="1356.1" cy="501.4" r="10.6"/><circle cx="1363.4" cy="512.5" r="10.6"/><circle cx="1361.1" cy="509.5" r="10.6"/><circle cx="1356.4" cy="505.3" r="10.6"/><circle cx="1359.6" cy="507.2" r="10.6"/><circle cx="1353.5" cy="496.9" r="10.6"/><circle cx="1349.1" cy="495.2" r="10.6"/><circle cx="1350.9" cy="497.0" r="10.6"/><circle cx="1347.7" cy="492.0" r="10.6"/><circle cx="1353.3" cy="498.1" r="10.6"/><circle cx="1338.4" cy="481.1" r="10.6"/><circle cx="1342.4" cy="488.7" r="10.6"/><circle cx="1346.0" cy="490.2" r="10.6"/><circle cx="1338.4" cy="484.2" r="10.6"/><circle cx="1336.7" cy="480.3" r="10.6"/><circle cx="1341.1" cy="487.5" r="10.6"/><circle cx="1328.6" cy="474.2" r="10.6"/><circle cx="1335.0" cy="479.4" r="10.6"/><circle cx="1332.2" cy="475.7" r="10.6"/><circle cx="1326.8" cy="470.4" r="10.6"/><circle cx="1321.4" cy="468.4" r="10.6"/><circle cx="1324.5" cy="471.4" r="10.6"/><circle cx="1327.0" cy="471.6" r="10.6"/><circle cx="1319.3" cy="465.4" r="10.6"/><circle cx="1312.9" cy="460.6" r="10.6"/><circle cx="1317.9" cy="466.3" r="10.6"/><circle cx="1318.9" cy="463.8" r="10.6"/><circle cx="1310.8" cy="454.9" r="10.6"/><circle cx="1312.9" cy="459.3" r="10.6"/><circle cx="1306.4" cy="453.2" r="10.6"/><circle cx="1302.9" cy="450.0" r="10.6"/><circle cx="1307.8" cy="454.4" r="10.6"/><circle cx="1294.2" cy="448.9" r="10.6"/><circle cx="1303.2" cy="452.1" r="10.6"/><circle cx="1298.0" cy="447.9" r="10.6"/><circle cx="1298.3" cy="449.9" r="10.6"/><circle cx="1289.1" cy="445.4" r="10.6"/><circle cx="1294.1" cy="447.0" r="10.6"/><circle cx="1288.8" cy="445.5" r="10.6"/><circle cx="1287.5" cy="443.4" r="10.6"/><circle cx="1282.4" cy="445.1" r="10.6"/><circle cx="1274.0" cy="447.0" r="10.6"/><circle cx="1272.9" cy="439.4" r="10.6"/><circle cx="1280.2" cy="440.7" r="10.6"/><circle cx="1270.1" cy="435.1" r="10.6"/><circle cx="1278.1" cy="442.5" r="10.6"/><circle cx="1277.7" cy="441.7" r="10.6"/><circle cx="1268.3" cy="433.3" r="10.6"/><circle cx="1264.0" cy="428.2" r="10.6"/><circle cx="1272.2" cy="437.8" r="10.6"/><circle cx="1270.0" cy="444.0" r="10.6"/><circle cx="1256.5" cy="422.2" r="10.6"/><circle cx="1256.4" cy="425.5" r="10.6"/><circle cx="1259.7" cy="425.1" r="10.6"/><circle cx="1266.6" cy="434.0" r="10.6"/><circle cx="1264.0" cy="432.4" r="10.6"/><circle cx="1252.6" cy="419.1" r="10.6"/><circle cx="1252.7" cy="418.5" r="10.6"/><circle cx="1255.6" cy="423.3" r="10.6"/><circle cx="1250.0" cy="415.2" r="10.6"/><circle cx="1247.1" cy="412.9" r="10.6"/><circle cx="1244.3" cy="408.8" r="10.6"/><circle cx="1240.7" cy="403.0" r="10.6"/><circle cx="1244.4" cy="407.9" r="10.6"/><circle cx="1249.1" cy="416.2" r="10.6"/><circle cx="1235.1" cy="400.7" r="10.6"/><circle cx="1234.8" cy="398.6" r="10.6"/><circle cx="1232.7" cy="398.8" r="10.6"/><circle cx="1239.8" cy="405.2" r="10.6"/><circle cx="1238.9" cy="402.9" r="10.6"/><circle cx="1224.8" cy="391.4" r="10.6"/><circle cx="1228.5" cy="395.6" r="10.6"/><circle cx="1228.1" cy="392.5" r="10.6"/><circle cx="1223.0" cy="387.7" r="10.6"/><circle cx="1221.3" cy="387.4" r="10.6"/><circle cx="1215.9" cy="382.2" r="10.6"/><circle cx="1221.3" cy="387.2" r="10.6"/><circle cx="1214.0" cy="380.6" r="10.6"/><circle cx="1218.2" cy="382.2" r="10.6"/><circle cx="1218.9" cy="382.6" r="10.6"/><circle cx="1203.8" cy="372.4" r="10.6"/><circle cx="1209.7" cy="373.9" r="10.6"/><circle cx="1210.6" cy="375.7" r="10.6"/><circle cx="1205.9" cy="376.4" r="10.6"/><circle cx="1200.2" cy="367.9" r="10.6"/><circle cx="1202.6" cy="371.9" r="10.6"/><circle cx="1174.0" cy="362.5" r="10.6"/><circle cx="1185.0" cy="364.0" r="10.6"/><circle cx="1199.6" cy="369.8" r="10.6"/><circle cx="1199.0" cy="367.5" r="10.6"/><circle cx="1161.5" cy="353.8" r="10.6"/><circle cx="1095.0" cy="346.0" r="10.6"/><circle cx="1089.0" cy="342.5" r="10.6"/><circle cx="1168.0" cy="358.0" r="10.6"/><circle cx="1102.8" cy="350.0" r="10.6"/><circle cx="1015.0" cy="333.0" r="10.6"/><circle cx="1041.2" cy="329.5" r="10.6"/><circle cx="1059.0" cy="336.2" r="10.6"/><circle cx="446.2" cy="342.0" r="10.6"/><circle cx="968.2" cy="341.2" r="10.6"/><circle cx="819.0" cy="342.0" r="10.6"/><circle cx="266.2" cy="342.5" r="10.6"/><circle cx="233.8" cy="342.5" r="10.6"/><circle cx="196.0" cy="341.0" r="10.6"/><circle cx="204.0" cy="342.5" r="10.6"/><circle cx="185.0" cy="326.2" r="10.6"/></g><g><circle cx="1613.6" cy="1089.0" r="10.6"/><circle cx="1613.6" cy="1007.6" r="10.6"/><circle cx="1629.0" cy="1140.3" r="10.6"/><circle cx="1608.4" cy="1140.3" r="10.6"/><circle cx="1608.4" cy="1109.5" r="10.6"/><circle cx="1613.6" cy="1098.4" r="10.6"/><circle cx="1612.7" cy="1078.7" r="10.6"/><circle cx="1577.2" cy="828.8" r="10.6"/><circle cx="1568.5" cy="807.5" r="10.6"/><circle cx="1601.6" cy="1059.0" r="10.6"/><circle cx="1565.0" cy="800.0" r="10.6"/><circle cx="1602.4" cy="1041.0" r="10.6"/><circle cx="1530.8" cy="698.2" r="10.6"/><circle cx="1528.6" cy="686.0" r="10.6"/><circle cx="1561.0" cy="792.5" r="10.6"/><circle cx="1530.8" cy="696.2" r="10.6"/><circle cx="1530.5" cy="695.0" r="10.6"/><circle cx="1527.1" cy="684.5" r="10.6"/><circle cx="1528.0" cy="690.1" r="10.6"/><circle cx="1523.4" cy="680.6" r="10.6"/><circle cx="1523.6" cy="674.6" r="10.6"/><circle cx="1525.7" cy="682.1" r="10.6"/><circle cx="1524.6" cy="682.8" r="10.6"/><circle cx="1521.9" cy="669.7" r="10.6"/><circle cx="1522.1" cy="674.9" r="10.6"/><circle cx="1518.6" cy="666.4" r="10.6"/><circle cx="1520.0" cy="670.9" r="10.6"/><circle cx="1513.7" cy="658.9" r="10.6"/><circle cx="1517.9" cy="660.6" r="10.6"/><circle cx="1514.4" cy="659.2" r="10.6"/><circle cx="1514.7" cy="656.9" r="10.6"/><circle cx="1516.9" cy="666.0" r="10.6"/><circle cx="1510.7" cy="648.7" r="10.6"/><circle cx="1512.3" cy="654.2" r="10.6"/><circle cx="1506.6" cy="644.5" r="10.6"/><circle cx="1509.2" cy="644.6" r="10.6"/><circle cx="1506.0" cy="640.6" r="10.6"/><circle cx="1508.3" cy="646.7" r="10.6"/><circle cx="1506.4" cy="639.2" r="10.6"/><circle cx="1501.8" cy="633.9" r="10.6"/><circle cx="1503.9" cy="635.0" r="10.6"/><circle cx="1503.2" cy="631.7" r="10.6"/><circle cx="1501.5" cy="630.8" r="10.6"/><circle cx="1493.6" cy="617.9" r="10.6"/><circle cx="1496.4" cy="618.8" r="10.6"/><circle cx="1498.7" cy="624.0" r="10.6"/><circle cx="1498.1" cy="623.1" r="10.6"/><circle cx="1500.4" cy="625.7" r="10.6"/><circle cx="1493.6" cy="614.0" r="10.6"/><circle cx="1489.7" cy="609.0" r="10.6"/><circle cx="1493.1" cy="614.7" r="10.6"/><circle cx="1488.9" cy="610.8" r="10.6"/><circle cx="1488.9" cy="609.0" r="10.6"/><circle cx="1485.4" cy="600.5" r="10.6"/><circle cx="1488.7" cy="603.0" r="10.6"/><circle cx="1483.3" cy="596.7" r="10.6"/><circle cx="1488.1" cy="599.8" r="10.6"/><circle cx="1483.2" cy="593.0" r="10.6"/><circle cx="1483.1" cy="595.7" r="10.6"/><circle cx="1477.6" cy="586.4" r="10.6"/><circle cx="1477.3" cy="584.7" r="10.6"/><circle cx="1474.0" cy="581.2" r="10.6"/><circle cx="1480.3" cy="588.5" r="10.6"/><circle cx="1473.6" cy="576.8" r="10.6"/><circle cx="1475.1" cy="583.0" r="10.6"/><circle cx="1473.9" cy="575.7" r="10.6"/><circle cx="1468.1" cy="566.7" r="10.6"/><circle cx="1470.1" cy="572.7" r="10.6"/><circle cx="1471.2" cy="572.5" r="10.6"/><circle cx="1468.1" cy="568.7" r="10.6"/><circle cx="1467.5" cy="562.1" r="10.6"/><circle cx="1466.7" cy="556.7" r="10.6"/><circle cx="1466.0" cy="567.0" r="10.6"/><circle cx="1464.5" cy="559.0" r="10.6"/><circle cx="1465.8" cy="551.8" r="10.6"/><circle cx="1463.5" cy="548.8" r="10.6"/><circle cx="1465.5" cy="558.5" r="10.6"/><circle cx="1461.6" cy="546.9" r="10.6"/><circle cx="1461.3" cy="540.3" r="10.6"/><circle cx="1461.2" cy="544.7" r="10.6"/><circle cx="1461.0" cy="536.7" r="10.6"/><circle cx="1460.5" cy="549.7" r="10.6"/><circle cx="1455.1" cy="529.9" r="10.6"/><circle cx="1457.8" cy="530.2" r="10.6"/><circle cx="1458.5" cy="537.1" r="10.6"/><circle cx="1454.9" cy="524.0" r="10.6"/><circle cx="1454.4" cy="529.0" r="10.6"/><circle cx="1451.5" cy="520.2" r="10.6"/><circle cx="1452.7" cy="521.7" r="10.6"/><circle cx="1451.3" cy="519.9" r="10.6"/><circle cx="1450.5" cy="517.6" r="10.6"/><circle cx="1444.8" cy="547.5" r="10.6"/><circle cx="1446.5" cy="510.2" r="10.6"/><circle cx="1450.2" cy="513.6" r="10.6"/><circle cx="1441.6" cy="505.8" r="10.6"/><circle cx="1444.6" cy="507.9" r="10.6"/><circle cx="1443.0" cy="503.0" r="10.6"/><circle cx="1443.9" cy="505.6" r="10.6"/><circle cx="1440.7" cy="500.6" r="10.6"/><circle cx="1438.2" cy="495.9" r="10.6"/><circle cx="1439.9" cy="498.2" r="10.6"/><circle cx="1435.4" cy="493.5" r="10.6"/><circle cx="1436.9" cy="494.2" r="10.6"/><circle cx="1433.7" cy="490.6" r="10.6"/><circle cx="1433.8" cy="485.3" r="10.6"/><circle cx="1432.4" cy="482.0" r="10.6"/><circle cx="1427.5" cy="478.8" r="10.6"/><circle cx="1425.3" cy="476.4" r="10.6"/><circle cx="1424.6" cy="470.1" r="10.6"/><circle cx="1428.5" cy="483.8" r="10.6"/><circle cx="1424.0" cy="474.2" r="10.6"/><circle cx="1428.6" cy="481.1" r="10.6"/><circle cx="1420.1" cy="466.6" r="10.6"/><circle cx="1417.3" cy="464.9" r="10.6"/><circle cx="1421.4" cy="472.0" r="10.6"/><circle cx="1420.6" cy="468.2" r="10.6"/><circle cx="1416.6" cy="463.2" r="10.6"/><circle cx="1411.8" cy="454.9" r="10.6"/><circle cx="1415.1" cy="460.1" r="10.6"/><circle cx="1411.9" cy="457.4" r="10.6"/><circle cx="1408.7" cy="452.3" r="10.6"/><circle cx="1406.0" cy="444.8" r="10.6"/><circle cx="1403.2" cy="441.8" r="10.6"/><circle cx="1408.6" cy="452.9" r="10.6"/><circle cx="1408.0" cy="447.8" r="10.6"/><circle cx="1401.3" cy="438.4" r="10.6"/><circle cx="1399.7" cy="435.2" r="10.6"/><circle cx="1402.7" cy="444.2" r="10.6"/><circle cx="1398.7" cy="434.6" r="10.6"/><circle cx="1399.3" cy="436.8" r="10.6"/><circle cx="1392.1" cy="427.0" r="10.6"/><circle cx="1393.7" cy="428.7" r="10.6"/><circle cx="1393.9" cy="432.0" r="10.6"/><circle cx="1392.1" cy="426.0" r="10.6"/><circle cx="1389.2" cy="421.3" r="10.6"/><circle cx="1388.5" cy="422.4" r="10.6"/><circle cx="1386.7" cy="419.9" r="10.6"/><circle cx="1379.6" cy="409.0" r="10.6"/><circle cx="1381.5" cy="410.7" r="10.6"/><circle cx="1383.0" cy="414.5" r="10.6"/><circle cx="1380.7" cy="407.4" r="10.6"/><circle cx="1382.9" cy="414.7" r="10.6"/><circle cx="1379.1" cy="405.8" r="10.6"/><circle cx="1374.6" cy="400.2" r="10.6"/><circle cx="1377.1" cy="402.6" r="10.6"/><circle cx="1372.4" cy="395.8" r="10.6"/><circle cx="1373.7" cy="398.0" r="10.6"/><circle cx="1370.0" cy="391.1" r="10.6"/><circle cx="1371.9" cy="395.5" r="10.6"/><circle cx="1365.9" cy="387.9" r="10.6"/><circle cx="1363.4" cy="383.4" r="10.6"/><circle cx="1363.7" cy="385.3" r="10.6"/><circle cx="1370.6" cy="392.7" r="10.6"/><circle cx="1360.9" cy="380.4" r="10.6"/><circle cx="1363.3" cy="381.5" r="10.6"/><circle cx="1360.4" cy="377.4" r="10.6"/><circle cx="1355.5" cy="370.5" r="10.6"/><circle cx="1352.5" cy="367.7" r="10.6"/><circle cx="1357.5" cy="376.2" r="10.6"/><circle cx="1355.7" cy="374.9" r="10.6"/><circle cx="1348.5" cy="366.6" r="10.6"/><circle cx="1347.8" cy="364.2" r="10.6"/><circle cx="1347.4" cy="360.2" r="10.6"/><circle cx="1346.0" cy="359.9" r="10.6"/><circle cx="1341.9" cy="357.9" r="10.6"/><circle cx="1337.1" cy="349.7" r="10.6"/><circle cx="1340.7" cy="354.7" r="10.6"/><circle cx="1334.3" cy="348.4" r="10.6"/><circle cx="1339.7" cy="353.5" r="10.6"/><circle cx="1339.4" cy="356.7" r="10.6"/><circle cx="1333.9" cy="349.4" r="10.6"/><circle cx="1329.4" cy="343.3" r="10.6"/><circle cx="1327.8" cy="340.2" r="10.6"/><circle cx="1331.1" cy="346.7" r="10.6"/><circle cx="1326.3" cy="338.5" r="10.6"/><circle cx="1323.5" cy="339.3" r="10.6"/><circle cx="1322.3" cy="334.0" r="10.6"/><circle cx="1322.2" cy="336.4" r="10.6"/><circle cx="1318.7" cy="333.3" r="10.6"/><circle cx="1316.8" cy="331.4" r="10.6"/><circle cx="1307.7" cy="322.9" r="10.6"/><circle cx="1310.6" cy="324.7" r="10.6"/><circle cx="1314.0" cy="327.2" r="10.6"/><circle cx="1312.9" cy="326.9" r="10.6"/><circle cx="1308.2" cy="321.5" r="10.6"/><circle cx="1303.2" cy="316.2" r="10.6"/><circle cx="1305.5" cy="320.4" r="10.6"/><circle cx="1305.1" cy="320.2" r="10.6"/><circle cx="1299.5" cy="313.8" r="10.6"/><circle cx="1297.8" cy="309.8" r="10.6"/><circle cx="1294.2" cy="306.2" r="10.6"/><circle cx="1299.2" cy="311.4" r="10.6"/><circle cx="1297.5" cy="309.2" r="10.6"/><circle cx="1291.4" cy="303.3" r="10.6"/><circle cx="1290.3" cy="301.5" r="10.6"/><circle cx="1286.8" cy="300.7" r="10.6"/><circle cx="1290.6" cy="303.1" r="10.6"/><circle cx="1281.6" cy="292.8" r="10.6"/><circle cx="1284.4" cy="296.9" r="10.6"/><circle cx="1285.9" cy="297.7" r="10.6"/><circle cx="1276.7" cy="289.3" r="10.6"/><circle cx="1279.9" cy="290.3" r="10.6"/><circle cx="1276.6" cy="287.6" r="10.6"/><circle cx="1275.5" cy="287.2" r="10.6"/><circle cx="1273.4" cy="281.3" r="10.6"/><circle cx="1268.0" cy="280.4" r="10.6"/><circle cx="1269.3" cy="281.5" r="10.6"/><circle cx="1273.2" cy="286.0" r="10.6"/><circle cx="1264.8" cy="275.9" r="10.6"/><circle cx="1259.6" cy="269.3" r="10.6"/><circle cx="1261.6" cy="274.8" r="10.6"/><circle cx="1263.9" cy="272.0" r="10.6"/><circle cx="1257.9" cy="268.0" r="10.6"/><circle cx="1255.3" cy="266.2" r="10.6"/><circle cx="1259.2" cy="271.2" r="10.6"/><circle cx="1249.8" cy="259.3" r="10.6"/><circle cx="1253.1" cy="262.8" r="10.6"/><circle cx="1246.2" cy="259.5" r="10.6"/><circle cx="1243.9" cy="257.1" r="10.6"/><circle cx="1245.7" cy="258.2" r="10.6"/><circle cx="1241.0" cy="254.0" r="10.6"/><circle cx="1241.6" cy="255.7" r="10.6"/><circle cx="1233.2" cy="250.2" r="10.6"/><circle cx="1239.4" cy="253.1" r="10.6"/><circle cx="1230.2" cy="246.6" r="10.6"/><circle cx="1235.8" cy="250.7" r="10.6"/><circle cx="1230.5" cy="246.3" r="10.6"/><circle cx="1228.7" cy="245.4" r="10.6"/><circle cx="1222.9" cy="241.4" r="10.6"/><circle cx="1215.6" cy="239.1" r="10.6"/><circle cx="1224.1" cy="242.5" r="10.6"/><circle cx="1221.8" cy="241.0" r="10.6"/><circle cx="1218.7" cy="239.0" r="10.6"/><circle cx="1210.3" cy="233.3" r="10.6"/><circle cx="1211.2" cy="233.0" r="10.6"/><circle cx="1214.9" cy="238.7" r="10.6"/><circle cx="1201.5" cy="227.0" r="10.6"/><circle cx="1205.8" cy="233.4" r="10.6"/><circle cx="1207.3" cy="233.6" r="10.6"/><circle cx="1149.2" cy="211.2" r="10.6"/><circle cx="1172.5" cy="220.4" r="10.6"/><circle cx="1110.8" cy="200.5" r="10.6"/><circle cx="1182.4" cy="222.0" r="10.6"/><circle cx="1164.2" cy="216.2" r="10.6"/><circle cx="1092.0" cy="193.8" r="10.6"/><circle cx="1015.8" cy="179.8" r="10.6"/><circle cx="1131.8" cy="203.8" r="10.6"/><circle cx="1052.8" cy="185.5" r="10.6"/><circle cx="694.5" cy="168.8" r="10.6"/><circle cx="950.2" cy="176.2" r="10.6"/><circle cx="342.5" cy="161.2" r="10.6"/><circle cx="210.0" cy="152.5" r="10.6"/><circle cx="251.2" cy="157.5" r="10.6"/><circle cx="193.5" cy="149.5" r="10.6"/><circle cx="195.5" cy="146.5" r="10.6"/><circle cx="192.2" cy="145.0" r="10.6"/></g></g>
<g fill="none" stroke="#2a00ee" stroke-width="6.1" stroke-linejoin="round"><polyline points="184.2,992.5 602.0,1001.2 1054.0,1013.8 1099.0,1015.5 1249.0,1030.0 1305.0,1044.0 1348.0,1053.0 1390.0,1072.0 1447.0,1089.0 1478.0,1110.0 1498.0,1125.0 1530.0,1140.0 1554.0,1147.0"/><polyline points="199.5,838.8 602.0,845.0 1054.0,855.0 1126.0,857.5 1170.0,864.0 1228.0,876.0 1287.0,890.0 1304.0,900.0 1329.0,912.5 1354.0,932.5 1379.0,955.0 1404.0,975.0 1424.0,990.0 1441.5,1012.5 1459.0,1035.0 1478.0,1060.0 1493.0,1080.0 1507.0,1100.0 1522.0,1118.0 1535.0,1133.0 1550.0,1147.0"/><polyline points="206.0,452.5 245.0,453.8 602.0,462.0 779.0,466.5 924.5,468.8 1104.0,489.0 1146.0,503.0 1181.5,515.0 1204.0,522.5 1229.0,535.0 1254.0,550.0 1279.0,570.0 1304.0,592.5 1329.0,617.5 1354.0,645.0 1381.0,680.0 1401.0,712.5 1418.5,737.5 1431.0,762.5 1456.0,795.0 1468.5,820.0 1486.0,850.0 1498.5,880.0 1511.0,907.5 1526.0,932.5 1536.0,962.5 1549.0,982.0 1562.5,999.0 1570.5,1022.0 1583.0,1065.0 1595.5,1114.0 1607.0,1163.5"/><polyline points="187.5,335.0 602.0,338.8 968.0,343.8 1054.0,352.5 1129.0,362.5 1179.0,373.8 1216.5,384.0 1241.5,405.0 1254.0,420.0 1274.0,440.0 1304.0,452.0 1329.0,472.5 1354.0,500.0 1381.0,540.0 1390.0,563.0 1411.0,582.0 1423.5,610.0 1443.5,637.5 1456.0,670.0 1468.5,703.0 1488.5,737.5 1496.0,775.0 1511.0,800.0 1521.0,825.0 1521.0,848.0 1528.5,862.5 1543.0,920.0 1560.0,975.0 1571.0,999.0 1578.0,1022.0 1588.5,1065.0 1599.0,1114.0 1607.0,1163.5"/><polyline points="192.5,172.5 342.0,173.5 694.0,179.0 950.0,188.0 1016.0,196.0 1053.0,201.0 1092.0,206.0 1131.0,211.0 1164.0,218.0 1207.0,233.0 1229.0,245.0 1254.0,265.0 1279.0,290.0 1304.0,317.5 1329.0,342.5 1354.0,370.0 1379.0,407.0 1404.0,444.0 1430.0,482.0 1456.0,528.0 1468.5,568.0 1482.0,600.0 1496.0,630.0 1509.0,660.0 1518.0,690.0 1521.0,705.0 1603.0,998.0 1612.0,1029.0 1622.0,1075.0 1631.7,1122.5"/></g>
</g>
</svg>
</body></html>
